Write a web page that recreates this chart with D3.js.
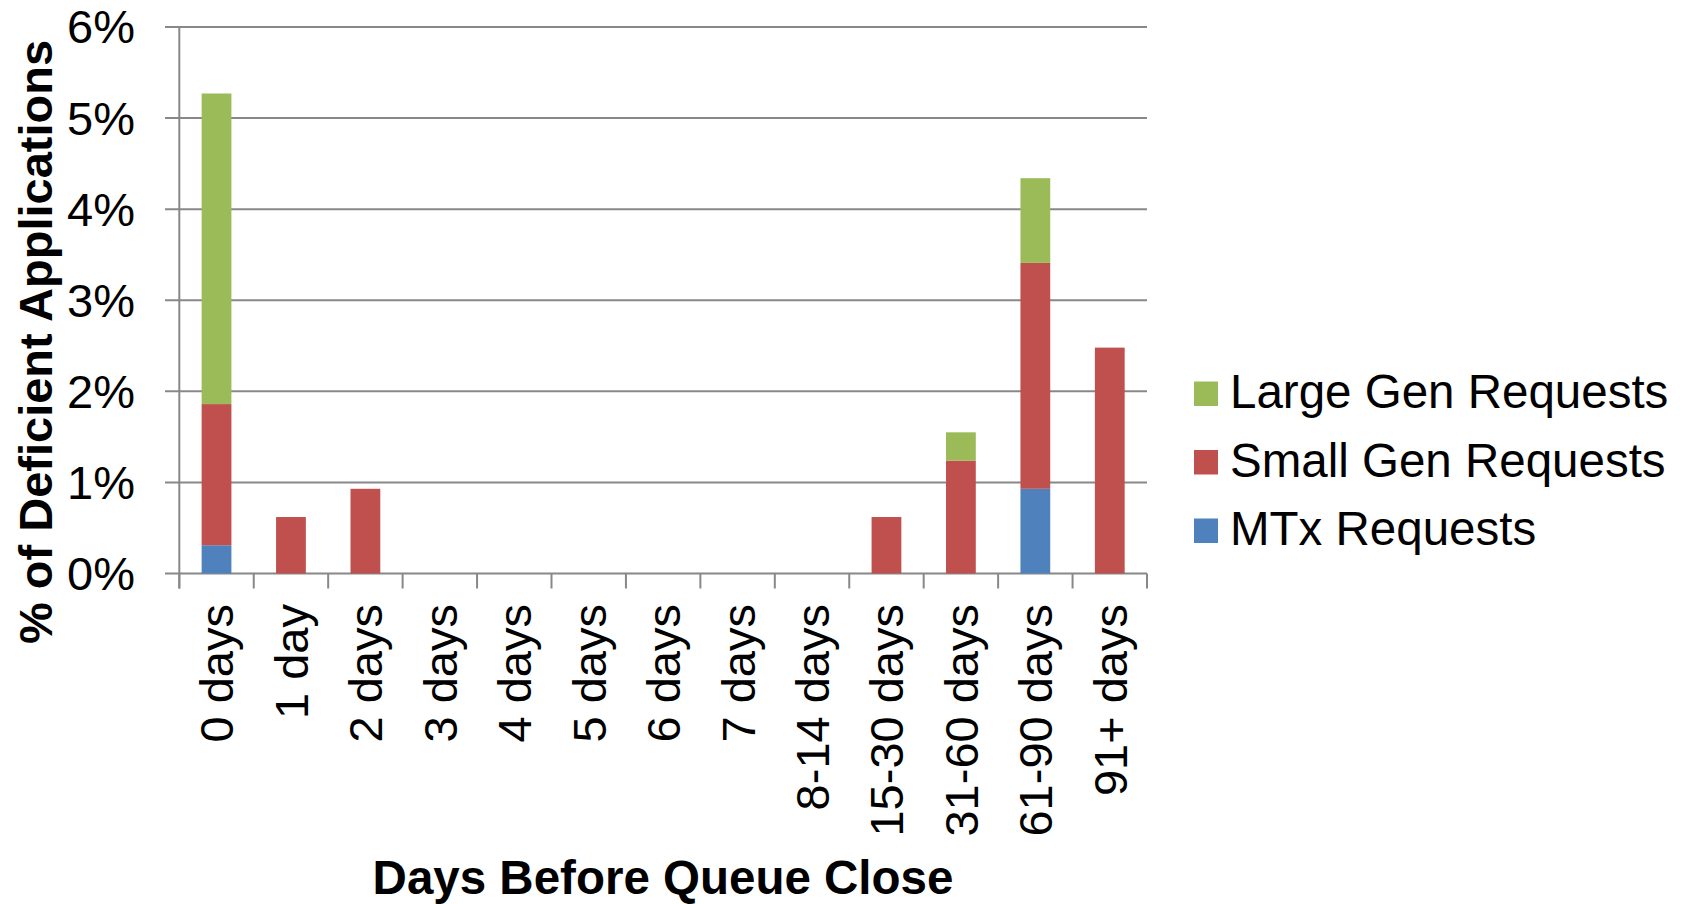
<!DOCTYPE html>
<html>
<head>
<meta charset="utf-8">
<script src="https://cdn.jsdelivr.net/npm/d3@7"></script>
<style>
  body { margin: 0; background: #fff; }
  text { font-family: "Liberation Sans", Arial, sans-serif; fill: #000; }
</style>
</head>
<body>
<div id="chart"></div>
<script>
const width = 1690
const height = 904

// data (percent of deficient applications)
const categories = ["0 days", "1 day", "2 days", "3 days", "4 days", "5 days", "6 days",
  "7 days", "8-14 days", "15-30 days", "31-60 days", "61-90 days", "91+ days"]
const mtx   = [0.31, 0, 0, 0, 0, 0, 0, 0, 0, 0, 0,    0.93, 0]
const small = [1.55, 0.62, 0.93, 0, 0, 0, 0, 0, 0, 0.62, 1.24, 2.48, 2.48]
const large = [3.41, 0, 0, 0, 0, 0, 0, 0, 0, 0, 0.31, 0.93, 0]
const seriesNames = ["MTx Requests", "Small Gen Requests", "Large Gen Requests"]
const seriesColors = ["#4F81BD", "#C0504D", "#9BBB59"]
const yTicks = [0, 1, 2, 3, 4, 5, 6]

const rows = categories.map((c, i) => ({ cat: c, s0: mtx[i], s1: small[i], s2: large[i] }))
const stacked = d3.stack().keys(["s0", "s1", "s2"])(rows)

const svg = d3.select("#chart").append("svg")
  .attr("width", width)
  .attr("height", height)

const x = d3.scaleBand().domain(categories).range([179.3, 1147]).paddingInner(0.6).paddingOuter(0.3)
const y = d3.scaleLinear().domain([0, 6]).range([573.5, 27])
const gridColor = "#888"

// gridlines (with small tick stubs on the left)
svg.append("g")
  .selectAll("line")
  .data(yTicks)
  .enter()
  .append("line")
  .attr("x1", 165)
  .attr("x2", 1147)
  .attr("y1", d => y(d))
  .attr("y2", d => y(d))
  .attr("stroke", gridColor)
  .attr("stroke-width", 2)

// y axis line
svg.append("line")
  .attr("x1", 179.3).attr("x2", 179.3)
  .attr("y1", y(6)).attr("y2", y(0) + 15)
  .attr("stroke", gridColor).attr("stroke-width", 2)

// category boundary ticks below the axis
const step = x.step()
svg.append("g")
  .selectAll("line")
  .data(d3.range(categories.length + 1))
  .enter()
  .append("line")
  .attr("x1", i => 179.3 + i * step)
  .attr("x2", i => 179.3 + i * step)
  .attr("y1", y(0))
  .attr("y2", y(0) + 15)
  .attr("stroke", gridColor)
  .attr("stroke-width", 2)

// stacked bars
svg.append("g")
  .selectAll("g")
  .data(stacked)
  .enter()
  .append("g")
  .attr("fill", (d, i) => seriesColors[i])
  .selectAll("rect")
  .data(d => d.filter(p => p[1] - p[0] > 0))
  .enter()
  .append("rect")
  .attr("x", d => x(d.data.cat))
  .attr("width", x.bandwidth())
  .attr("y", d => y(d[1]))
  .attr("height", d => y(d[0]) - y(d[1]))

// y tick labels
svg.append("g")
  .selectAll("text")
  .data(yTicks)
  .enter()
  .append("text")
  .attr("x", 135)
  .attr("y", d => y(d))
  .attr("dy", "0.35em")
  .attr("text-anchor", "end")
  .style("font-size", "47px")
  .text(d => d + "%")

// x tick labels, rotated
svg.append("g")
  .selectAll("text")
  .data(categories)
  .enter()
  .append("text")
  .attr("transform", d => "translate(" + (x(d) + x.bandwidth() / 2) + ",604) rotate(-90)")
  .attr("dy", "0.36em")
  .attr("text-anchor", "end")
  .style("font-size", "47px")
  .text(d => d)

// axis titles
svg.append("text")
  .attr("transform", "translate(52,342) rotate(-90)")
  .attr("text-anchor", "middle")
  .style("font-size", "47px")
  .style("font-weight", "bold")
  .text("% of Deficient Applications")

svg.append("text")
  .attr("x", 663)
  .attr("y", 894)
  .attr("text-anchor", "middle")
  .style("font-size", "47.5px")
  .style("font-weight", "bold")
  .text("Days Before Queue Close")

// legend (top to bottom: Large, Small, MTx)
const legendItems = [2, 1, 0]
const legend = svg.append("g")
  .selectAll("g")
  .data(legendItems)
  .enter()
  .append("g")
  .attr("transform", (d, i) => "translate(1194," + (408 + i * 68.5) + ")")

legend.append("rect")
  .attr("x", 0)
  .attr("y", -26.5)
  .attr("width", 24)
  .attr("height", 24.5)
  .attr("fill", d => seriesColors[d])

legend.append("text")
  .attr("x", 36)
  .attr("y", 0)
  .style("font-size", "47.5px")
  .text(d => seriesNames[d])
</script>
</body>
</html>
